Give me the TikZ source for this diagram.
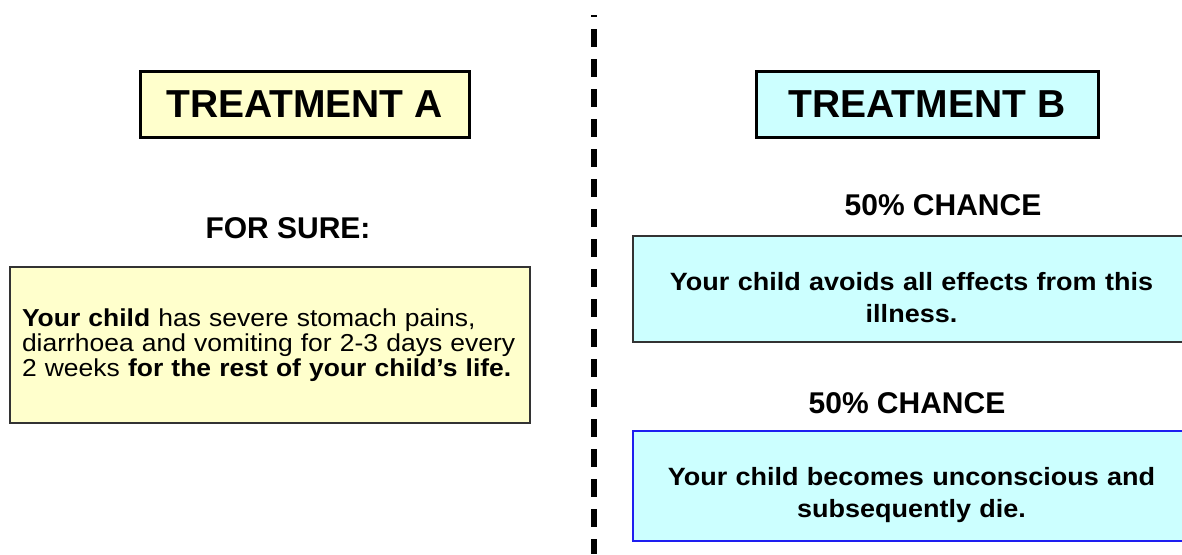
\documentclass[tikz,border=0pt]{standalone}
\usepackage{fontspec}
\setmainfont{Liberation Sans}
\newfontfamily\bodyfont[FakeStretch=1.08]{Liberation Sans}
\newcommand{\toplift}{\rule{0pt}{36pt}}
\definecolor{paleyellow}{RGB}{255,255,204}
\definecolor{palecyan}{RGB}{204,255,255}
\definecolor{boxline}{RGB}{51,51,51}
\definecolor{boxblue}{RGB}{30,30,240}
\tikzset{
  headbox/.style={draw, line width=3pt, inner sep=0pt, minimum height=66pt, font=\fontsize{39}{44}\selectfont\bfseries},
  chance/.style={font=\fontsize{30}{34}\selectfont\bfseries},
  notebox/.style={draw=boxline, line width=1.5pt, inner sep=0pt},
  notetextA/.style={font=\bodyfont\fontsize{24.5}{25}\selectfont, text width=496pt, align=left},
  notetextB/.style={font=\bodyfont\fontsize{25}{32}\selectfont\bfseries, text width=530pt, align=center}
}
\begin{document}
\begin{tikzpicture}[x=1pt, y=-1pt]
\path[use as bounding box, clip] (0,0) rectangle (1182,554);
\fill[white] (0,0) rectangle (1182,554);

\node[headbox, fill=paleyellow, minimum width=329pt] (treatA) at (304.5,104) {TREATMENT A};
\node[headbox, fill=palecyan, minimum width=342pt] (treatB) at (927,104) {TREATMENT B};

\draw[line width=6pt, dash pattern=on 18pt off 12pt, dash phase=16pt] (594,15) -- (594,554);

\node[chance] (sure) at (288,228) {FOR SURE:};
\node[notebox, notetextA, fill=paleyellow, minimum width=520pt, minimum height=156pt] (effectA) at (270,345) {\textbf{Your child} has severe stomach pains,\\ diarrhoea and vomiting for 2-3 days every\\ 2 weeks \textbf{for the rest of your child’s life.}};

\node[chance] (chanceA) at (943,205) {50\% CHANCE};
\node[notebox, notetextB, fill=palecyan, minimum width=557pt, minimum height=106pt] (survive) at (911.5,289) {\toplift Your child avoids all effects from this\\ illness.};

\node[chance] (chanceB) at (907,403) {50\% CHANCE};
\node[notebox, notetextB, draw=boxblue, fill=palecyan, minimum width=557pt, minimum height=110pt] (die) at (911.5,486) {\toplift Your child becomes unconscious and\\ subsequently die.};

\end{tikzpicture}
\end{document}
